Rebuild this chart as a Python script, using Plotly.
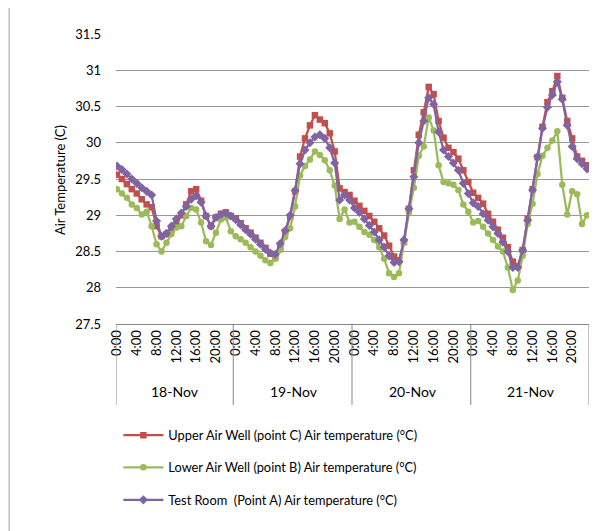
import plotly.graph_objects as go

days = ["18-Nov", "19-Nov", "20-Nov", "21-Nov"]
hour_labels = ["0:00", "4:00", "8:00", "12:00", "16:00", "20:00"]

upper_c = [
    29.56, 29.50, 29.43, 29.36, 29.30, 29.22, 29.15, 29.11, 28.85, 28.71, 28.74, 28.80,
    28.88, 29.00, 29.15, 29.33, 29.36, 29.20, 28.99, 28.85, 28.97, 29.02, 29.04, 28.99,
    28.96, 28.89, 28.82, 28.76, 28.69, 28.62, 28.55, 28.47, 28.42, 28.55, 28.77, 28.98,
    29.33, 29.81, 30.06, 30.24, 30.38, 30.32, 30.27, 30.13, 29.88, 29.37, 29.32, 29.28,
    29.20, 29.13, 29.06, 28.99, 28.91, 28.82, 28.72, 28.58, 28.43, 28.38, 28.63, 29.09,
    29.62, 30.11, 30.42, 30.77, 30.67, 30.30, 30.07, 29.93, 29.87, 29.78, 29.62, 29.46,
    29.31, 29.24, 29.16, 29.02, 28.91, 28.80, 28.69, 28.56, 28.36, 28.30, 28.52, 28.95,
    29.36, 29.80, 30.22, 30.56, 30.71, 30.92, 30.62, 30.30, 30.06, 29.81, 29.75, 29.69,
]

lower_b = [
    29.36, 29.30, 29.24, 29.15, 29.10, 29.01, 29.05, 28.85, 28.60, 28.50, 28.62, 28.74,
    28.83, 28.85, 28.99, 29.10, 29.08, 28.90, 28.64, 28.59, 28.76, 28.94, 28.97, 28.78,
    28.71, 28.67, 28.62, 28.56, 28.50, 28.44, 28.38, 28.34, 28.40, 28.52, 28.70, 28.82,
    29.12, 29.55, 29.68, 29.77, 29.88, 29.83, 29.76, 29.62, 29.41, 28.95, 29.08, 28.90,
    28.91, 28.84, 28.77, 28.73, 28.66, 28.56, 28.40, 28.20, 28.15, 28.20, 28.62, 29.03,
    29.38, 29.82, 29.95, 30.35, 30.17, 29.69, 29.46, 29.44, 29.42, 29.35, 29.15, 29.05,
    28.90, 28.92, 28.84, 28.75, 28.66, 28.57, 28.50, 28.28, 27.97, 28.10, 28.44, 28.88,
    29.16, 29.57, 29.82, 29.93, 30.03, 30.16, 29.42, 29.01, 29.33, 29.29, 28.88, 29.00,
]

test_room_a = [
    29.68, 29.63, 29.57, 29.50, 29.44, 29.38, 29.33, 29.28, 28.92, 28.71, 28.75, 28.85,
    28.95, 29.03, 29.12, 29.22, 29.27, 29.18, 28.99, 28.85, 28.97, 29.01, 29.03, 28.99,
    28.94, 28.87, 28.80, 28.74, 28.67, 28.60, 28.53, 28.48, 28.46, 28.61, 28.79, 29.00,
    29.34, 29.71, 29.90, 30.00, 30.08, 30.11, 30.06, 29.93, 29.72, 29.21, 29.28, 29.21,
    29.10, 29.04, 28.95, 28.86, 28.77, 28.66, 28.56, 28.44, 28.35, 28.36, 28.66, 29.09,
    29.53, 30.00, 30.30, 30.62, 30.53, 30.15, 29.90, 29.81, 29.72, 29.62, 29.44, 29.30,
    29.17, 29.12, 29.02, 28.93, 28.84, 28.75, 28.63, 28.50, 28.28, 28.28, 28.52, 28.93,
    29.35, 29.81, 30.20, 30.49, 30.66, 30.84, 30.60, 30.24, 29.95, 29.78, 29.71, 29.64,
]

names = [
    "Upper Air Well (point C) Air temperature (°C)",
    "Lower Air Well (point B) Air temperature (°C)",
    "Test Room  (Point A) Air temperature (°C)",
]
colors = ["#C0504D", "#9BBB59", "#8064A2"]
symbols = ["square", "circle", "diamond"]
series = [upper_c, lower_b, test_room_a]

FONT = "Lato, 'Open Sans', sans-serif"
n = len(upper_c)
x = list(range(n))
per_day = n // len(days)

fig = go.Figure()
legend_ids = ["legend", "legend2", "legend3"]
for s, nm, c, sym, lg in zip(series, names, colors, symbols, legend_ids):
    fig.add_trace(go.Scatter(
        x=x, y=s, mode="lines+markers", name=nm,
        line=dict(color=c, width=2.25),
        marker=dict(symbol=sym, size=6.5 if sym != "diamond" else 7, color=c),
        legend=lg,
    ))

tickvals = []
ticktext = []
for d in range(len(days)):
    for k, lab in enumerate(hour_labels):
        tickvals.append(d * per_day + k * 4)
        ticktext.append(lab)

shapes = []
for b in [-0.2] + [d * per_day - 0.5 for d in range(1, len(days))] + [95.4]:
    shapes.append(dict(type="line", xref="x", yref="paper", x0=b, x1=b, y0=0, y1=-0.279,
                       line=dict(color="#868686", width=1)))
shapes.append(dict(type="line", xref="paper", yref="paper", x0=-0.226, x1=-0.226,
                   y0=-0.72, y1=1.12, line=dict(color="#A0A0A0", width=1)))

annotations = []
for d, day in enumerate(days):
    annotations.append(dict(x=d * per_day + 11.75, y=-0.234, xref="x", yref="paper",
                            text=day, showarrow=False, font=dict(size=14, color="black", family=FONT),
                            xanchor="center", yanchor="middle"))
annotations.append(dict(x=-0.118, y=0.497, xref="paper", yref="paper", text="Air Temperature (C)",
                        textangle=-90, showarrow=False, font=dict(size=13, color="black", family=FONT),
                        xanchor="center", yanchor="middle"))

leg_common = dict(x=0.005, xanchor="left", yanchor="middle", bgcolor="rgba(0,0,0,0)",
                  font=dict(size=12.8, color="black", family=FONT), itemwidth=40)

fig.update_layout(
    width=608, height=523,
    margin=dict(l=108, r=27, t=26, b=207),
    paper_bgcolor="white", plot_bgcolor="white",
    font=dict(family=FONT, color="black"),
    showlegend=True,
    legend=dict(y=-0.384, **leg_common),
    legend2=dict(y=-0.495, **leg_common),
    legend3=dict(y=-0.607, **leg_common),
    shapes=shapes,
    annotations=annotations,
    xaxis=dict(range=[-0.2, 95.4], tickmode="array", tickvals=tickvals, ticktext=ticktext,
               tickangle=-90, showgrid=False, zeroline=False, showline=True,
               linecolor="#868686", linewidth=1, ticks="", tickfont=dict(size=13, color="black"),
               fixedrange=True),
    yaxis=dict(range=[27.5, 31.5], dtick=0.5, tick0=27.5, showgrid=True, gridcolor="#999999",
               gridwidth=1.3, zeroline=False, showline=False, ticks="",
               tickfont=dict(size=13, color="black"), ticklabelstandoff=14),
)

fig.write_html("out.html")
